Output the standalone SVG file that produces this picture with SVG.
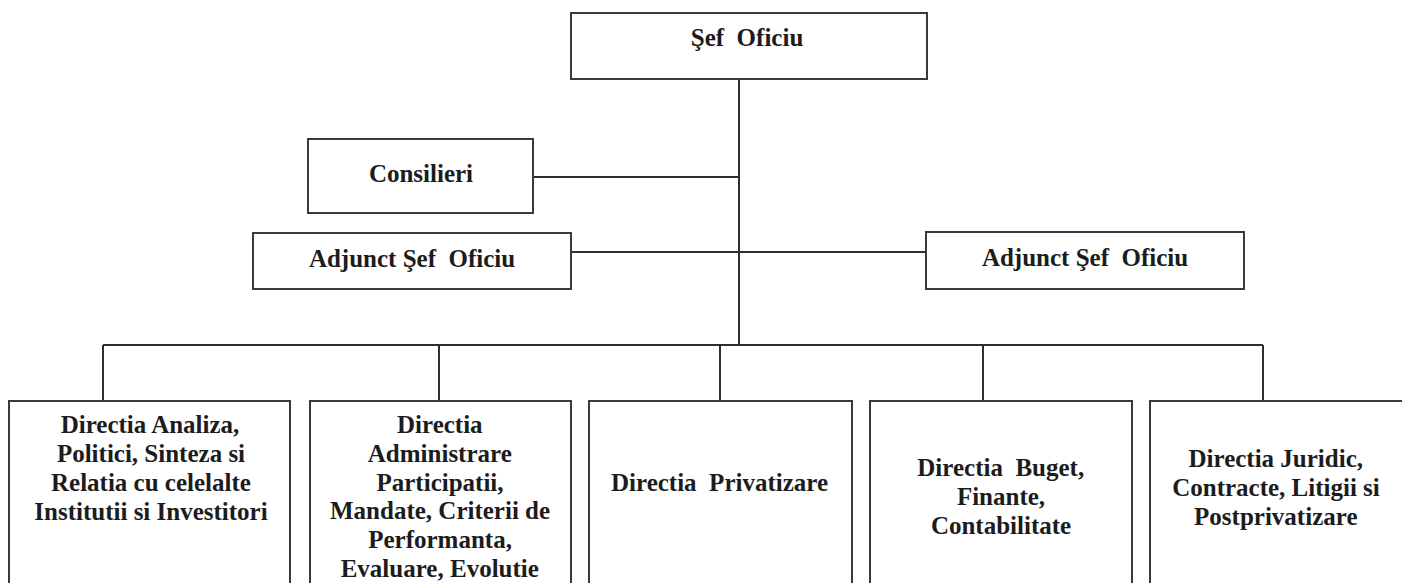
<svg xmlns="http://www.w3.org/2000/svg" width="1402" height="583" viewBox="0 0 1402 583">
<style>
.box{fill:#ffffff;stroke:#3a3a3a;stroke-width:2}
.ln{fill:none;stroke:#2e2e2e;stroke-width:2}
</style>
<rect x="0" y="0" width="1402" height="583" fill="#ffffff"/>
<g id="connectors">
<line class="ln" x1="739" y1="79" x2="739" y2="345"/>
<line class="ln" x1="533" y1="177" x2="739" y2="177"/>
<line class="ln" x1="571" y1="252" x2="926" y2="252"/>
<line class="ln" x1="103" y1="345" x2="1263" y2="345"/>
<line class="ln" x1="103" y1="345" x2="103" y2="401"/>
<line class="ln" x1="439" y1="345" x2="439" y2="401"/>
<line class="ln" x1="720" y1="345" x2="720" y2="401"/>
<line class="ln" x1="983" y1="345" x2="983" y2="401"/>
<line class="ln" x1="1263" y1="345" x2="1263" y2="401"/>
</g>
<g id="sef-oficiu">
<rect class="box" x="571" y="13" width="356" height="66"/>
<text x="690.8" y="46" font-family="Liberation Serif" font-weight="bold" font-size="25" fill="#1c1c1c">Şef&#160; Oficiu</text>
</g>
<g id="consilieri">
<rect class="box" x="308" y="139" width="225" height="74"/>
<text x="368.9" y="182" font-family="Liberation Serif" font-weight="bold" font-size="25" fill="#1c1c1c">Consilieri</text>
</g>
<g id="adjunct-stanga">
<rect class="box" x="253" y="233" width="318" height="56"/>
<text x="308.9" y="267" font-family="Liberation Serif" font-weight="bold" font-size="25" fill="#1c1c1c">Adjunct Şef&#160; Oficiu</text>
</g>
<g id="adjunct-dreapta">
<rect class="box" x="926" y="232" width="318" height="57"/>
<text x="981.9" y="266" font-family="Liberation Serif" font-weight="bold" font-size="25" fill="#1c1c1c">Adjunct Şef&#160; Oficiu</text>
</g>
<g id="directia-analiza">
<rect class="box" x="9" y="401" width="281" height="200"/>
<text x="60.7" y="433" font-family="Liberation Serif" font-weight="bold" font-size="25" fill="#1c1c1c">Directia Analiza,</text>
<text x="56.9" y="462" font-family="Liberation Serif" font-weight="bold" font-size="25" fill="#1c1c1c">Politici, Sinteza si</text>
<text x="51.0" y="491" font-family="Liberation Serif" font-weight="bold" font-size="25" fill="#1c1c1c">Relatia cu celelalte</text>
<text x="34.3" y="520" font-family="Liberation Serif" font-weight="bold" font-size="25" fill="#1c1c1c">Institutii si Investitori</text>
</g>
<g id="directia-administrare">
<rect class="box" x="310" y="401" width="261" height="200"/>
<text x="397.0" y="433" font-family="Liberation Serif" font-weight="bold" font-size="25" fill="#1c1c1c">Directia</text>
<text x="367.8" y="462" font-family="Liberation Serif" font-weight="bold" font-size="25" fill="#1c1c1c">Administrare</text>
<text x="376.5" y="491" font-family="Liberation Serif" font-weight="bold" font-size="25" fill="#1c1c1c">Participatii,</text>
<text x="330.0" y="519" font-family="Liberation Serif" font-weight="bold" font-size="25" fill="#1c1c1c">Mandate, Criterii de</text>
<text x="368.2" y="548" font-family="Liberation Serif" font-weight="bold" font-size="25" fill="#1c1c1c">Performanta,</text>
<text x="340.7" y="577" font-family="Liberation Serif" font-weight="bold" font-size="25" fill="#1c1c1c">Evaluare, Evolutie</text>
</g>
<g id="directia-privatizare">
<rect class="box" x="589" y="401" width="263" height="200"/>
<text x="611.0" y="491" font-family="Liberation Serif" font-weight="bold" font-size="25" fill="#1c1c1c">Directia&#160; Privatizare</text>
</g>
<g id="directia-buget">
<rect class="box" x="870" y="401" width="262" height="200"/>
<text x="917.3" y="476" font-family="Liberation Serif" font-weight="bold" font-size="25" fill="#1c1c1c">Directia&#160; Buget,</text>
<text x="956.9" y="505" font-family="Liberation Serif" font-weight="bold" font-size="25" fill="#1c1c1c">Finante,</text>
<text x="930.9" y="534" font-family="Liberation Serif" font-weight="bold" font-size="25" fill="#1c1c1c">Contabilitate</text>
</g>
<g id="directia-juridic">
<rect class="box" x="1150" y="401" width="262" height="200"/>
<text x="1188.5" y="467" font-family="Liberation Serif" font-weight="bold" font-size="25" fill="#1c1c1c">Directia Juridic,</text>
<text x="1172.2" y="496" font-family="Liberation Serif" font-weight="bold" font-size="25" fill="#1c1c1c">Contracte, Litigii si</text>
<text x="1194.1" y="525" font-family="Liberation Serif" font-weight="bold" font-size="25" fill="#1c1c1c">Postprivatizare</text>
</g>
</svg>
